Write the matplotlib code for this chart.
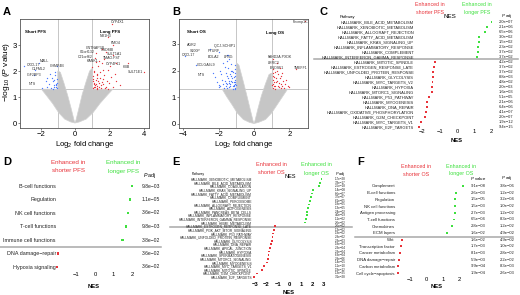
import matplotlib
matplotlib.use('Agg')
import matplotlib.pyplot as plt
import matplotlib.transforms as mtransforms

plt.rcParams['font.family'] = ['Liberation Sans', 'DejaVu Sans']
plt.rcParams['mathtext.fontset'] = 'custom'
plt.rcParams['mathtext.rm'] = 'Liberation Sans'
plt.rcParams['mathtext.it'] = 'Liberation Sans:italic'
plt.rcParams['mathtext.bf'] = 'Liberation Sans:bold'

RED = '#e8333a'
GREEN = '#3ee03e'
BLUE = '#4a78ff'
GREY = '#c6c6c6'

# ---------------- volcano data (A: PFS, B: OS) ----------------
# grey cloud envelopes (two lobes each)
A_left_x = [0, -0.25, -0.6, -0.95, -1.3, -1.65, -1.95, -1.0, -1.0, -0.85, -0.65, -0.42, -0.22, -0.06]
A_left_y = [0, 0.04, 0.15, 0.4, 0.75, 1.05, 1.3, 1.3, 2.0, 1.95, 1.55, 1.05, 0.55, 0.12]
A_right_x = [0, 0.25, 0.65, 1.05, 1.45, 1.85, 2.2, 1.0, 1.0, 0.85, 0.65, 0.42, 0.22, 0.06]
A_right_y = [0, 0.04, 0.15, 0.4, 0.75, 1.05, 1.3, 1.3, 2.1, 2.0, 1.6, 1.1, 0.55, 0.12]

B_left_x = [0, -0.25, -0.6, -0.95, -1.25, -1.55, -1.8, -1.0, -1.0, -0.85, -0.65, -0.42, -0.22, -0.06]
B_left_y = [0, 0.04, 0.15, 0.4, 0.72, 1.02, 1.3, 1.3, 2.3, 2.2, 1.7, 1.1, 0.55, 0.12]
B_right_x = [0, 0.25, 0.65, 1.0, 1.35, 1.65, 1.9, 1.0, 1.0, 0.85, 0.65, 0.42, 0.22, 0.06]
B_right_y = [0, 0.04, 0.15, 0.4, 0.75, 1.05, 1.3, 1.3, 1.9, 1.85, 1.5, 1.05, 0.55, 0.12]

A_red_x = [1.05, 1.1, 1.15, 1.2, 1.05, 1.3, 1.4, 1.1, 1.25, 1.5, 1.6, 1.35, 1.8, 1.2, 1.45,
           1.05, 1.7, 2.0, 1.15, 1.3, 1.9, 2.2, 1.55, 1.1, 1.4, 1.25, 2.4, 1.65, 1.0, 1.75,
           1.35, 2.1, 1.2, 2.6, 1.5, 1.08, 1.9, 1.3, 1.6, 1.02, 1.45, 1.85, 2.3, 1.12, 1.55,
           2.15, 1.9, 2.2, 1.55, 1.8, 1.2, 2.2, 1.15, 1.4, 2.4, 3.1, 4.0, 1.7, 2.05, 1.28]
A_red_y = [1.35, 1.5, 1.4, 1.65, 1.8, 1.35, 1.55, 2.0, 1.9, 1.45, 1.7, 2.2, 1.4, 2.35, 1.95,
           1.6, 1.85, 1.55, 1.45, 1.75, 2.05, 1.4, 2.3, 1.38, 1.4, 1.32, 1.6, 1.5, 2.15, 1.36,
           1.62, 1.78, 1.5, 1.45, 1.33, 1.95, 1.32, 1.42, 2.05, 1.7, 1.75, 1.62, 1.9, 1.55, 1.58,
           3.8, 3.3, 3.0, 2.85, 2.75, 2.68, 2.6, 2.5, 2.38, 2.3, 2.3, 1.95, 2.45, 2.2, 1.85]
A_blue_x = [-1.05, -1.1, -1.2, -1.3, -1.05, -1.4, -1.15, -1.5, -1.25, -1.6, -1.1, -1.35, -1.02,
            -1.7, -1.2, -1.45, -1.08, -1.9, -2.4, -2.95, -2.1, -2.3, -1.05, -1.3, -1.6, -1.15]
A_blue_y = [1.35, 1.5, 1.4, 1.6, 1.7, 1.35, 1.85, 1.5, 1.45, 1.4, 1.38, 1.75, 1.55,
            1.6, 1.65, 1.9, 1.45, 1.35, 1.85, 2.2, 2.3, 2.05, 2.2, 1.32, 1.72, 1.98]

B_red_x = [1.05, 1.1, 1.2, 1.3, 1.15, 1.4, 1.05, 1.5, 1.25, 1.6, 1.1, 1.35, 1.75, 1.2, 1.45,
           1.02, 1.65, 1.9, 1.3, 1.55, 1.08, 1.4, 1.2, 1.8, 1.5, 1.12, 1.7, 1.35, 1.05, 1.6,
           1.25, 1.45, 1.95, 1.15, 2.4, 2.9, 1.1, 1.3]
B_red_y = [1.35, 1.5, 1.4, 1.62, 1.75, 1.36, 1.9, 1.48, 1.55, 1.4, 1.65, 1.85, 1.5, 1.32, 1.7,
           1.45, 1.6, 1.42, 2.0, 1.35, 1.8, 1.52, 1.95, 1.65, 1.8, 1.42, 1.33, 1.4, 2.05, 1.9,
           1.7, 2.1, 1.38, 1.58, 2.05, 3.85, 2.45, 2.3]
B_blue_x = [-1.05, -1.1, -1.2, -1.3, -1.15, -1.4, -1.05, -1.5, -1.25, -1.6, -1.1, -1.35, -1.75,
            -1.2, -1.45, -1.02, -1.65, -1.9, -1.3, -1.55, -1.08, -1.4, -1.2, -1.8, -1.5, -1.12,
            -1.7, -1.35, -1.05, -1.6, -1.25, -1.45, -1.95, -1.15, -2.1, -1.3, -1.85, -1.1, -1.5,
            -2.2, -1.4, -1.22, -1.65, -1.05, -1.9, -1.35, -2.3, -1.55, -1.15, -1.75, -1.28, -1.42,
            -2.0, -1.6, -1.1, -3.9, -2.5, -2.0, -1.45, -3.3]
B_blue_y = [1.35, 1.5, 1.4, 1.62, 1.75, 1.36, 1.9, 1.48, 1.55, 1.4, 1.65, 1.85, 1.5, 1.32, 1.7,
            1.45, 1.6, 1.42, 2.0, 1.35, 1.8, 1.52, 1.95, 1.65, 1.8, 1.42, 1.33, 1.4, 2.05, 1.9,
            1.7, 2.1, 1.38, 1.58, 1.55, 2.25, 1.85, 2.2, 2.35, 1.75, 2.45, 2.0, 2.15, 1.58, 2.0,
            1.48, 1.9, 2.6, 1.45, 2.3, 1.78, 1.62, 1.45, 1.52, 1.3, 2.55, 2.8, 2.7, 2.6, 2.2]

A_genes = ['CYP4X1', 'NR1H3', 'FMO4', 'CNTNAP3B', 'GSDMB', 'C6orf132', 'SULT1A1', 'C21orf62',
           'TMAO.FST', 'KANK1', 'CYP4F11', 'HBB', 'SULT1E1',
           'MALL', 'CXCL17', 'CHMP4B', 'OLFML2', 'IGF2BP3', 'NTS']
A_gene_x = [2.09, 1.45, 2.1, 0.64, 1.5, 0.29, 1.86, 0.17, 1.6, 0.7, 1.8, 2.8, 3.1,
            -2.03, -2.8, -1.45, -2.5, -2.8, -2.67]
A_gene_y = [3.88, 3.35, 3.07, 2.9, 2.8, 2.72, 2.65, 2.55, 2.5, 2.4, 2.27, 2.15, 1.97,
            2.38, 2.23, 2.2, 2.07, 1.85, 1.5]

B_genes = ['Fexmp1C', 'AGR2', 'IQCJ-SCHIP1', 'S100P', 'PYURF', 'CXCL17', 'BOLA2', 'LFNG',
           'GOLGA6L9', 'NTS', 'FAHD2A.PXDK', 'LRRC3', 'ENOSF1', 'TMEFF1']
B_gene_x = [2.2, -3.8, -2.3, -3.6, -2.6, -4.1, -2.6, -1.7, -3.2, -3.2, 0.75, 0.75, 0.9, 2.25]
B_gene_y = [3.83, 2.96, 2.93, 2.75, 2.75, 2.58, 2.5, 2.5, 2.2, 1.82, 2.5, 2.3, 2.1, 2.1]

# ---------------- NES panels ----------------
C_path = ['HALLMARK_BILE_ACID_METABOLISM', 'HALLMARK_XENOBIOTIC_METABOLISM',
          'HALLMARK_ALLOGRAFT_REJECTION', 'HALLMARK_FATTY_ACID_METABOLISM',
          'HALLMARK_KRAS_SIGNALING_UP', 'HALLMARK_INFLAMMATORY_RESPONSE',
          'HALLMARK_COMPLEMENT', 'HALLMARK_INTERFERON_GAMMA_RESPONSE',
          'HALLMARK_MITOTIC_SPINDLE', 'HALLMARK_ESTROGEN_RESPONSE_LATE',
          'HALLMARK_UNFOLDED_PROTEIN_RESPONSE', 'HALLMARK_GLYCOLYSIS',
          'HALLMARK_MYC_TARGETS_V2', 'HALLMARK_HYPOXIA', 'HALLMARK_MTORC1_SIGNALING',
          'HALLMARK_P53_PATHWAY', 'HALLMARK_MYOGENESIS', 'HALLMARK_DNA_REPAIR',
          'HALLMARK_OXIDATIVE_PHOSPHORYLATION', 'HALLMARK_G2M_CHECKPOINT',
          'HALLMARK_MYC_TARGETS_V1', 'HALLMARK_E2F_TARGETS']
C_nes = [2.0, 1.73, 1.62, 1.28, 1.27, 1.22, 1.2, 1.17, -1.27, -1.33, -1.38, -1.4, -1.42,
         -1.47, -1.47, -1.64, -1.72, -1.76, -1.8, -1.84, -2.1, -2.2]
C_padj = ['2.0e−07', '2.1e−06', '6.5e−06', '3.0e−02', '1.5e−02', '2.3e−02', '3.7e−02',
          '3.7e−02', '4.2e−02', '3.7e−02', '3.7e−02', '8.8e−03', '4.8e−02', '2.0e−03',
          '1.6e−03', '5.1e−05', '2.1e−06', '6.4e−06', '4.1e−07', '2.0e−07', '1.9e−12', '9.4e−15']

D_path = ['B-cell functions', 'Regulation', 'NK cell functions', 'T-cell functions',
          'Immune cell functions', 'DNA damage−repair', 'Hypoxia signaling']
D_nes = [1.97, 1.87, 1.75, 1.66, 1.48, -1.97, -2.03]
D_padj = ['9.8e−03', '1.1e−05', '3.6e−02', '9.8e−03', '3.8e−02', '3.6e−02', '3.6e−02']

E_path = ['HALLMARK_XENOBIOTIC_METABOLISM', 'HALLMARK_BILE_ACID_METABOLISM',
          'HALLMARK_COAGULATION', 'HALLMARK_KRAS_SIGNALING_UP',
          'HALLMARK_FATTY_ACID_METABOLISM', 'HALLMARK_COMPLEMENT', 'HALLMARK_PEROXISOME',
          'HALLMARK_ALLOGRAFT_REJECTION', 'HALLMARK_ADIPOGENESIS',
          'HALLMARK_PANCREAS_BETA_CELLS', 'HALLMARK_INFLAMMATORY_RESPONSE',
          'HALLMARK_INTERFERON_GAMMA_RESPONSE', 'HALLMARK_HEME_METABOLISM',
          'HALLMARK_ESTROGEN_RESPONSE_LATE', 'HALLMARK_PI3K_AKT_MTOR_SIGNALING',
          'HALLMARK_P53_PATHWAY', 'HALLMARK_UNFOLDED_PROTEIN_RESPONSE', 'HALLMARK_GLYCOLYSIS',
          'HALLMARK_DNA_REPAIR', 'HALLMARK_APICAL_JUNCTION', 'HALLMARK_HYPOXIA',
          'HALLMARK_SPERMATOGENESIS', 'HALLMARK_MTORC1_SIGNALING', 'HALLMARK_MYOGENESIS',
          'HALLMARK_MYC_TARGETS_V1', 'HALLMARK_MITOTIC_SPINDLE', 'HALLMARK_G2M_CHECKPOINT',
          'HALLMARK_E2F_TARGETS']
E_nes = [2.8, 2.67, 2.58, 2.09, 2.0, 1.89, 1.8, 1.74, 1.65, 1.57, 1.51, 1.45, 1.37,
         -1.24, -1.33, -1.39, -1.47, -1.53, -1.59, -1.68, -1.74, -1.8, -1.85, -1.97,
         -2.2, -2.4, -2.84, -3.04]
E_padj = ['1.7e−28', '3.3e−17', '2.5e−18', '1.4e−08', '6.6e−07', '3.7e−07', '6.1e−05',
          '1.8e−05', '1.3e−05', '2.4e−02', '4.0e−03', '1.1e−02', '2.6e−02', '2.6e−02',
          '1.3e−02', '1.9e−02', '2.8e−02', '2.3e−03', '1.8e−03', '2.3e−04', '2.3e−04',
          '6.3e−04', '2.9e−06', '1.4e−05', '1.1e−10', '1.9e−12', '1.3e−25', '3.1e−28']

F_path = ['Complement', 'B-cell functions', 'Regulation', 'NK cell functions',
          'Antigen processing', 'T-cell functions', 'Chemokines', 'ECM layers', 'Wnt',
          'Transcription factor', 'Cancer metabolism', 'DNA damage−repair',
          'Carbon metabolism', 'Cell cycle−apoptosis']
F_nes = [2.26, 1.79, 1.75, 1.75, 1.75, 1.71, 1.55, 1.24, -1.48, -1.58, -1.62, -1.66,
         -1.72, -1.76]
F_pval = ['9.1e−08', '2.6e−03', '1.5e−05', '1.5e−03', '2.7e−03', '6.5e−04', '2.8e−03',
          '1.6e−02', '1.6e−02', '1.7e−03', '8.1e−03', '5.9e−03', '9.9e−04', '1.9e−04']
F_padj = ['3.8e−06', '1.2e−02', '3.2e−04', '1.0e−02', '1.2e−02', '8.3e−03', '1.2e−02',
          '4.9e−02', '4.9e−02', '1.0e−02', '2.8e−02', '2.2e−02', '8.3e−03', '2.6e−03']

W, H = 520, 295
fig = plt.figure(figsize=(W / 100, H / 100), dpi=100)


def px_axes(l, t, r, b):
    return fig.add_axes([l / W, 1 - b / H, (r - l) / W, (b - t) / H])


def ftext(x, y, s, **kw):
    kw.setdefault('va', 'center')
    fig.text(x / W, 1 - y / H, s, **kw)


def volcano(l, t, r, b, x0, xs, y0, ys, xticks, lobes, red, blue, genes, gx, gy):
    ax = px_axes(l, t, r, b)
    ax.set_xlim((l - x0) / xs, (r - x0) / xs)
    ax.set_ylim((y0 - b) / ys, (y0 - t) / ys)
    for lx, ly in lobes:
        ax.fill(lx, ly, color=GREY, lw=0.5, ec='#d2d2d2', zorder=1)
    ax.axvline(-1, color='#bdbdbd', lw=0.6, zorder=0.5)
    ax.axvline(1, color='#bdbdbd', lw=0.6, zorder=0.5)
    ax.axhline(1.3, color='#bdbdbd', lw=0.6, zorder=0.5)
    ax.scatter(red[0], red[1], s=0.9, color=RED, lw=0, zorder=2)
    ax.scatter(blue[0], blue[1], s=0.9, color=BLUE, lw=0, zorder=2)
    for g, x, y in zip(genes, gx, gy):
        ax.text(x, y, g, fontsize=2.6, color='#333333', ha='left', va='center', zorder=3)
    ax.set_xticks(xticks)
    ax.set_xticklabels([str(v).replace('-', '−') for v in xticks])
    ax.set_yticks([0, 1, 2, 3])
    ax.tick_params(labelsize=5.5, length=1.5, width=0.5, pad=1, color='#555555')
    for s in ax.spines.values():
        s.set_linewidth(0.6)
        s.set_color('#555555')
    return ax


# panel A
axA = volcano(20, 19, 149, 128, 75, 17.2, 123, 26, [-2, 0, 2, 4],
              [(A_left_x, A_left_y), (A_right_x, A_right_y)],
              (A_red_x, A_red_y), (A_blue_x, A_blue_y), A_genes, A_gene_x, A_gene_y)
axA.text(-2.9, 3.5, 'Short PFS', fontsize=3.2, fontweight='bold', va='center')
axA.text(1.45, 3.5, 'Long PFS', fontsize=3.2, fontweight='bold', va='center')
ftext(3, 12, 'A', fontsize=8, fontweight='bold')
ftext(7, 72, '−log$_{10}$ ($\\it{P}$ value)', fontsize=6, rotation=90, ha='center')
ftext(85, 144, 'Log$_2$ fold change', fontsize=5.5, ha='center')

# panel B
axB = volcano(179, 19, 308, 128, 254, 17.7, 123.5, 26.5, [-4, -2, 0, 2],
              [(B_left_x, B_left_y), (B_right_x, B_right_y)],
              (B_red_x, B_red_y), (B_blue_x, B_blue_y), B_genes, B_gene_x, B_gene_y)
axB.text(-3.8, 3.46, 'Short OS', fontsize=3.2, fontweight='bold', va='center')
axB.text(0.68, 3.4, 'Long OS', fontsize=3.2, fontweight='bold', va='center')
ftext(172, 12, 'B', fontsize=8, fontweight='bold')
ftext(244, 144, 'Log$_2$ fold change', fontsize=5.5, ha='center')


def nes_panel(l, r, y_first, dy, labels, nes, x0, xs, tick_y, ticks, lab_fs, tick_fs,
              sep_y, sep_x, cols, col_fs, tick_bold=False, ms=2.0):
    n = len(labels)
    t = y_first - dy
    b = tick_y - 2.2 - tick_fs * 0.7
    ax = px_axes(l, t, r, b)
    ax.set_xlim((l - x0) / xs, (r - x0) / xs)
    ax.set_ylim((b - y_first) / dy, (t - y_first) / dy)
    colors = [GREEN if v > 0 else RED for v in nes]
    ax.scatter(nes, range(n), s=ms, color=colors, lw=0, marker='s', zorder=3, clip_on=False)
    ax.set_yticks(range(n))
    ax.set_yticklabels(labels, fontsize=lab_fs, color='#222222')
    ax.set_xticks(ticks)
    ax.set_xticklabels([str(v).replace('-', '−') for v in ticks],
                       fontweight='bold' if tick_bold else 'normal')
    ax.tick_params(axis='x', labelsize=tick_fs, length=0, pad=0.6)
    ax.tick_params(axis='y', length=0, pad=0.8)
    for s in ax.spines.values():
        s.set_visible(False)
    ax.patch.set_alpha(0)
    tr = mtransforms.blended_transform_factory(fig.transFigure, ax.transData)
    sep = (sep_y - y_first) / dy
    ax.plot([sep_x[0] / W, sep_x[1] / W], [sep, sep], transform=tr, clip_on=False,
            color='#a8a8a8', lw=1.1, zorder=1)
    for cx, vals in cols:
        for i, v in enumerate(vals):
            ax.text(cx / W, i, v, transform=tr, fontsize=col_fs, ha='center', va='center',
                    color='#222222')
    return ax


def headers(red_x, green_x, y1, y2, fs, short, long):
    ftext(red_x, y1, 'Enhanced in', fontsize=fs, color=RED, ha='center')
    ftext(red_x, y2, short, fontsize=fs, color=RED, ha='center')
    ftext(green_x, y1, 'Enhanced in', fontsize=fs, color=GREEN, ha='center')
    ftext(green_x, y2, long, fontsize=fs, color=GREEN, ha='center')


# panel C
nes_panel(415, 497, 22, 5.0, C_path, C_nes, 457, 17.25, 133, [-2, -1, 0, 1, 2], 2.9, 4.2,
          59.5, (314, 518), [(506, C_padj)], 2.9)
ftext(320, 12, 'C', fontsize=8, fontweight='bold')
headers(430, 477, 5, 12.5, 3.8, 'shorter PFS', 'longer PFS')
ftext(340, 17, 'Pathway', fontsize=2.9, ha='left')
ftext(450, 16.5, 'NES', fontsize=4.5, ha='center')
ftext(507, 16.5, '$\\it{P}$ adj', fontsize=3.2, ha='center')
ftext(457, 140, 'NES', fontsize=4.2, fontweight='bold', ha='center')

# panel D
nes_panel(57, 140, 186, 13.5, D_path, D_nes, 95, 18.7, 276, [-1, 0, 1, 2], 3.9, 4.2,
          247, (0, 161), [(151, D_padj)], 3.6, ms=3.0)
ftext(3, 162, 'D', fontsize=8, fontweight='bold')
headers(68, 123, 163, 171, 4.5, 'shorter PFS', 'longer PFS')
ftext(150, 175, '$\\it{P}$ adj', fontsize=3.8, ha='center')
ftext(94, 286, 'NES', fontsize=4.2, fontweight='bold', ha='center')

# panel E
nes_panel(253, 335, 179, 3.63, E_path, E_nes, 289.3, 11.5, 286, [-3, -2, -1, 0, 1, 2, 3],
          2.3, 4.2, 226.8, (170, 352), [(340, E_padj)], 2.2, tick_bold=True, ms=1.6)
ftext(172, 162, 'E', fontsize=8, fontweight='bold')
headers(271, 316, 165, 173, 4.0, 'shorter OS', 'longer OS')
ftext(192, 174.5, 'Pathway', fontsize=2.4, ha='left')
ftext(290, 177, 'NES', fontsize=4.0, ha='center')
ftext(340, 174, '$\\it{P}$ adj', fontsize=2.8, ha='center')
ftext(289, 292, 'NES', fontsize=4.2, fontweight='bold', ha='center')

# panel F
nes_panel(396, 470, 186, 6.7, F_path, F_nes, 426.5, 16.3, 281, [-1, 0, 1, 2], 3.1, 4.2,
          236.5, (355, 513), [(478, F_pval), (507, F_padj)], 3.0, ms=2.0)
ftext(357, 162, 'F', fontsize=8, fontweight='bold')
headers(416, 461, 167, 174, 3.9, 'shorter OS', 'longer OS')
ftext(478, 178.5, '$\\it{P}$ value', fontsize=3.2, ha='center')
ftext(507, 178.5, '$\\it{P}$ adj', fontsize=3.2, ha='center')
ftext(437, 287, 'NES', fontsize=4.2, fontweight='bold', ha='center')

fig.savefig('out.png', dpi=100)
